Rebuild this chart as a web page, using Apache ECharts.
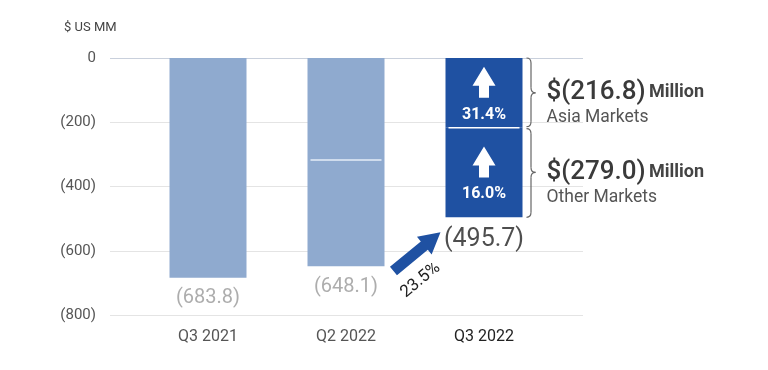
<!DOCTYPE html>
<html><head><meta charset="utf-8">
<script src="https://cdn.jsdelivr.net/npm/echarts@6/dist/echarts.min.js"></script>
<style>html,body{margin:0;padding:0;background:#fff}#c{width:768px;height:370px}</style>
</head><body><div id="c"></div>
<script>
const categories = ['Q3 2021', 'Q2 2022', 'Q3 2022'];
const segmentA = [-683.8, -317.5, -216.8];
const segmentB = [0, -330.6, -279.0];
const totals = [-683.8, -648.1, -495.7];
const totalLabels = ['(683.8)', '(648.1)', '(495.7)'];
const yMin = -800, yMax = 0, yStep = 200;
const segGrowth = ['31.4%', '16.0%'];
const segAmounts = ['$(216.8)', '$(279.0)'];
const segMarkets = ['Asia Markets', 'Other Markets'];
const totalGrowth = '23.5%';
const unitLabel = '$ US MM';

const FONT = 'Roboto, "Open Sans", sans-serif';
const LIGHT = '#8FAACF', DARK = '#1F51A2';

const chart = echarts.init(document.getElementById('c'), null, {renderer: 'canvas'});

function fmtTick(v) { return v === 0 ? '0' : '(' + Math.abs(v) + ')'; }

const option = {
  animation: false,
  backgroundColor: '#fff',
  textStyle: {fontFamily: FONT},
  title: {text: unitLabel, left: 59, top: 16, textStyle: {fontSize: 13, fontWeight: 'normal', color: '#444', fontFamily: FONT}},
  grid: [
    {left: 110, right: 185, top: 58, bottom: 55, outerBoundsMode: 'none'},
    {left: 139, right: 215, top: 58, bottom: 55, outerBoundsMode: 'none'}
  ],
  xAxis: [
    {type: 'value', gridIndex: 0, show: false, min: 0, max: 1},
    {type: 'category', gridIndex: 1, data: categories,
     axisLine: {show: false}, axisTick: {show: false},
     axisLabel: {margin: 14, fontSize: 16, fontFamily: FONT,
       color: (v, i) => i === 2 ? '#222' : '#555'}}
  ],
  yAxis: [
    {type: 'value', gridIndex: 0, min: yMin, max: yMax, interval: yStep,
     axisLine: {show: false}, axisTick: {show: false},
     splitLine: {lineStyle: {color: ['#e4e4e4', '#e4e4e4', '#e4e4e4', '#e4e4e4', '#c9d0dc'], width: 1}},
     axisLabel: {margin: 14, fontSize: 15, color: '#555', fontFamily: FONT, formatter: fmtTick}},
    {type: 'value', gridIndex: 1, min: yMin, max: yMax, interval: yStep, show: false, splitLine: {show: false}}
  ],
  series: [
    {type: 'bar', name: 'A', xAxisIndex: 1, yAxisIndex: 1, stack: 't', barWidth: 77,
     data: segmentA.map((v, i) => ({value: v, itemStyle: {color: i === 2 ? DARK : LIGHT}}))},
    {type: 'bar', name: 'B', xAxisIndex: 1, yAxisIndex: 1, stack: 't', barWidth: 77,
     data: segmentB.map((v, i) => ({value: v, itemStyle: {color: i === 2 ? DARK : LIGHT}}))},
    {type: 'scatter', xAxisIndex: 1, yAxisIndex: 1, symbolSize: 1,
     itemStyle: {color: 'rgba(0,0,0,0)'}, silent: true,
     data: totals.map((v, i) => ({
       value: [i, v],
       label: {show: true, position: 'bottom', distance: i === 2 ? 10 : 10,
         formatter: () => totalLabels[i], fontFamily: FONT,
         fontSize: i === 2 ? 25 : 20, color: i === 2 ? '#222' : '#999'}
     }))}
  ]
};
chart.setOption(option);

// Annotations positioned from the axes' own scales
const px = (ci, v) => chart.convertToPixel({xAxisIndex: 1, yAxisIndex: 1}, [ci, v]);
const g = [];
const half = 77 / 2;

// separators inside stacked bars
[1, 2].forEach(ci => {
  const p = px(ci, segmentA[ci]);
  g.push({type: 'line', shape: {x1: p[0] - half + 3, y1: p[1], x2: p[0] + half - 3, y2: p[1]},
    style: {stroke: ci === 2 ? '#ffffff' : '#e4ecf7', lineWidth: 1.5}, z: 10});
});

// up arrows & pct in Q3 2022 segments and braces/text to the right
const segBounds = [[0, segmentA[2]], [segmentA[2], segmentA[2] + segmentB[2]]];
segBounds.forEach((b, k) => {
  const pTop = px(2, b[0]), pBot = px(2, b[1]);
  const cx = pTop[0], t = pTop[1], bt = pBot[1], m = (t + bt) / 2;
  const ty = m - 26;
  g.push({type: 'polygon', z: 10, shape: {points: [
    [cx, ty], [cx + 11.5, ty + 19], [cx + 5, ty + 19], [cx + 5, ty + 31],
    [cx - 5, ty + 31], [cx - 5, ty + 19], [cx - 11.5, ty + 19]]},
    style: {fill: '#fff'}});
  g.push({type: 'text', z: 10, style: {text: segGrowth[k], x: cx, y: m + 22, align: 'center', verticalAlign: 'middle',
    fill: '#fff', font: 'bold 16px ' + FONT}});
  // brace
  const x0 = cx + half + 4, w = 9, xm = x0 + w / 2, r = 5;
  const tt = t + (k === 0 ? 0 : 1), bb = bt - (k === 0 ? 1 : 0);
  const st = {stroke: '#666', lineWidth: 1.2, fill: null};
  g.push({type: 'bezierCurve', z: 10, shape: {x1: x0, y1: tt, x2: xm, y2: tt + r, cpx1: xm, cpy1: tt}, style: st});
  g.push({type: 'line', z: 10, shape: {x1: xm, y1: tt + r, x2: xm, y2: m - r}, style: st});
  g.push({type: 'bezierCurve', z: 10, shape: {x1: xm, y1: m - r, x2: x0 + w, y2: m, cpx1: xm, cpy1: m}, style: st});
  g.push({type: 'bezierCurve', z: 10, shape: {x1: x0 + w, y1: m, x2: xm, y2: m + r, cpx1: xm, cpy1: m}, style: st});
  g.push({type: 'line', z: 10, shape: {x1: xm, y1: m + r, x2: xm, y2: bb - r}, style: st});
  g.push({type: 'bezierCurve', z: 10, shape: {x1: xm, y1: bb - r, x2: x0, y2: bb, cpx1: xm, cpy1: bb}, style: st});
  // texts
  const tx = cx + half + 24;
  g.push({type: 'text', z: 10, style: {
    text: '{a|' + segAmounts[k] + '} {b|Million}', x: tx, y: m, verticalAlign: 'middle', align: 'left',
    rich: {a: {fontSize: 26, fontWeight: 500, fill: '#3a3a3a', color: '#3a3a3a', fontFamily: FONT},
           b: {fontSize: 18, fontWeight: 'bold', fill: '#444', color: '#444', fontFamily: FONT}}}});
  g.push({type: 'text', z: 10, style: {text: segMarkets[k], x: tx, y: m + 25, verticalAlign: 'middle', align: 'left',
    fill: '#555', font: '17.5px ' + FONT}});
});

// diagonal growth arrow pointing at Q3 2022 total
(function () {
  const pb = px(2, totals[2]);
  const tip = [pb[0] - half - 5, pb[1] + 15];
  const ang = Math.atan2(-38, 46); // direction from tail to tip
  const L = 61, headL = 21, headW = 11.5, stemW = 5.5;
  const ux = Math.cos(ang), uy = Math.sin(ang), nx = -uy, ny = ux;
  const P = (a, b) => [tip[0] - ux * a + nx * b, tip[1] - uy * a + ny * b];
  g.push({type: 'polygon', z: 10, shape: {points: [
    P(0, 0), P(headL, headW), P(headL, stemW), P(L, stemW), P(L, -stemW), P(headL, -stemW), P(headL, -headW)]},
    style: {fill: DARK}});
  g.push({type: 'text', z: 10, x: tip[0] - 20, y: tip[1] + 48, rotation: -ang,
    style: {text: totalGrowth, x: 0, y: 0, align: 'center', verticalAlign: 'middle', fill: '#222', font: '17px ' + FONT}});
})();

chart.setOption({graphic: {elements: g}});
</script>
</body></html>
